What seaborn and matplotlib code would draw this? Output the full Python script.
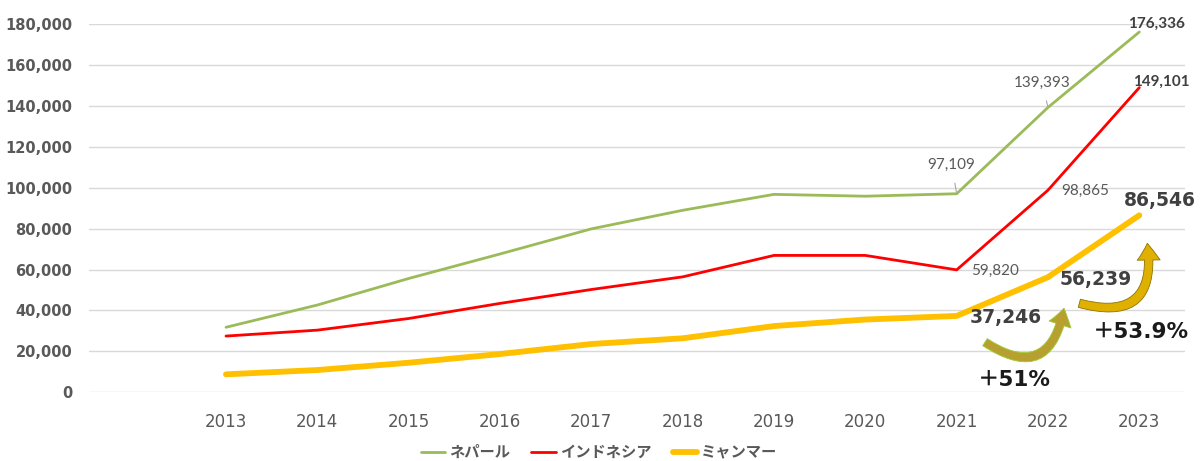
import matplotlib
matplotlib.use("Agg")
import matplotlib.pyplot as plt
from matplotlib.transforms import offset_copy
from matplotlib.ticker import FuncFormatter
import numpy as np
import pandas as pd
import seaborn as sns

years = list(range(2013, 2024))
nepal = [31700, 42600, 55600, 67600, 79900, 89000, 96800, 95900, 97109, 139393, 176336]
indonesia = [27400, 30300, 36000, 43400, 50200, 56400, 66900, 66900, 59820, 98865, 149101]
myanmar = [8650, 10760, 14330, 18600, 23500, 26300, 32300, 35500, 37246, 56239, 86546]

names = ['ネパール', 'インドネシア', 'ミャンマー']
colors = ['#9BBB59', '#FF0000', '#FFC000']
widths = [2.0, 2.0, 4.2]

df = pd.DataFrame({
    'year': years * 3,
    'value': nepal + indonesia + myanmar,
    'country': [n for n in names for _ in years],
})

sns.set_theme(style='white')
plt.rcParams['font.family'] = ['DejaVu Sans', 'Noto Sans CJK JP']

fig = plt.figure(figsize=(12, 4.61), dpi=100)
ax = fig.add_axes([89 / 1200, 69 / 461, 1096 / 1200, 367.5 / 461])

for name, col, lw in zip(names, colors, widths):
    sns.lineplot(data=df[df['country'] == name], x='year', y='value', ax=ax,
                 color=col, linewidth=lw, label=name, solid_capstyle='round')

ax.set_xlim(2011.5, 2023.5)
ax.set_ylim(0, 180000)
ax.set_yticks(np.arange(0, 180001, 20000))
ax.set_xticks(years)
ax.yaxis.set_major_formatter(FuncFormatter(lambda v, p: f'{int(v):,}'))
ax.grid(axis='y', color='#D9D9D9', linewidth=1)
ax.grid(axis='x', visible=False)
for s in ax.spines.values():
    s.set_visible(False)
ax.set_xlabel('')
ax.set_ylabel('')
ax.tick_params(axis='y', length=0, pad=12, labelsize=10.5, labelcolor='#595959')
ax.tick_params(axis='x', length=0, pad=15, labelsize=12, labelcolor='#595959')
for t in ax.get_yticklabels():
    t.set_fontweight('bold')

ax.get_legend().remove()
h, l = ax.get_legend_handles_labels()
fig.legend(h, l, loc='center', bbox_to_anchor=(599 / 1200, 9 / 461), ncol=3,
           frameon=False, handlelength=1.6, handletextpad=0.25, columnspacing=1.4,
           prop={'family': 'Noto Sans CJK JP', 'weight': 'bold', 'size': 11},
           labelcolor='#595959')

px = 0.72  # pixel -> points


def label(x, y, text, dx, dy, size=11, weight='normal', color='#595959',
          family='Lato', leader=False):
    arrow = dict(arrowstyle='-', color='#A6A6A6', lw=0.8, shrinkA=6, shrinkB=1) if leader else None
    ax.annotate(text, xy=(x, y), xytext=(dx * px, dy * px), textcoords='offset points',
                ha='center', va='center', fontsize=size, fontweight=weight,
                color=color, family=family, arrowprops=arrow)


# endpoint labels
label(2023, nepal[10], f'{nepal[10]:,}', 17, 8, weight='bold', color='#404040')
label(2023, indonesia[10], f'{indonesia[10]:,}', 22, 6, weight='bold', color='#404040')
label(2022, nepal[9], f'{nepal[9]:,}', -6, 25, leader=True)
label(2021, nepal[8], f'{nepal[8]:,}', -5, 29, leader=True)
label(2022, indonesia[9], f'{indonesia[9]:,}', 37, -1)
label(2021, indonesia[8], f'{indonesia[8]:,}', 38, -1)

# Myanmar labels
big = dict(size=13.5, weight='bold', color='#404040', family='DejaVu Sans')
label(2021, myanmar[8], f'{myanmar[8]:,}', 49, -2, **big)
label(2022, myanmar[9], f'{myanmar[9]:,}', 48, -2, **big)
label(2023, myanmar[10], f'{myanmar[10]:,}', 21, 15, **big)

# growth arrows
def curved_arrow(x, y, hx, hy, tx, ty, rad, fc, ec):
    tr = offset_copy(ax.transData, fig=fig, x=hx * px, y=hy * px, units='points')
    ax.annotate('', xy=(x, y), xycoords=tr, xytext=(tx * px, ty * px),
                textcoords='offset points',
                arrowprops=dict(arrowstyle='simple,head_width=1.5,head_length=1.1,tail_width=0.55',
                                connectionstyle=f'arc3,rad={rad}', fc=fc, ec=ec,
                                lw=0.6, mutation_scale=11, shrinkA=0, shrinkB=0))


curved_arrow(2022, myanmar[9], 16, -31, -79, -34, 0.75, '#B8A030', '#9ACD32')
curved_arrow(2023, myanmar[10], 8, -28, -68, -60, 0.75, '#E0B000', '#8B7500')

pct_font = ['DejaVu Sans', 'Noto Sans CJK JP']
ax.annotate('＋51%', xy=(2021, myanmar[8]), xytext=(58 * px, -64 * px),
            textcoords='offset points', ha='center', va='center', fontsize=15.5,
            fontweight='bold', color='#1A1A1A', family=pct_font)
ax.annotate('＋53.9%', xy=(2022, myanmar[9]), xytext=(93 * px, -55 * px),
            textcoords='offset points', ha='center', va='center', fontsize=15.5,
            fontweight='bold', color='#1A1A1A', family=pct_font)

fig.savefig('out.png', dpi=100)
